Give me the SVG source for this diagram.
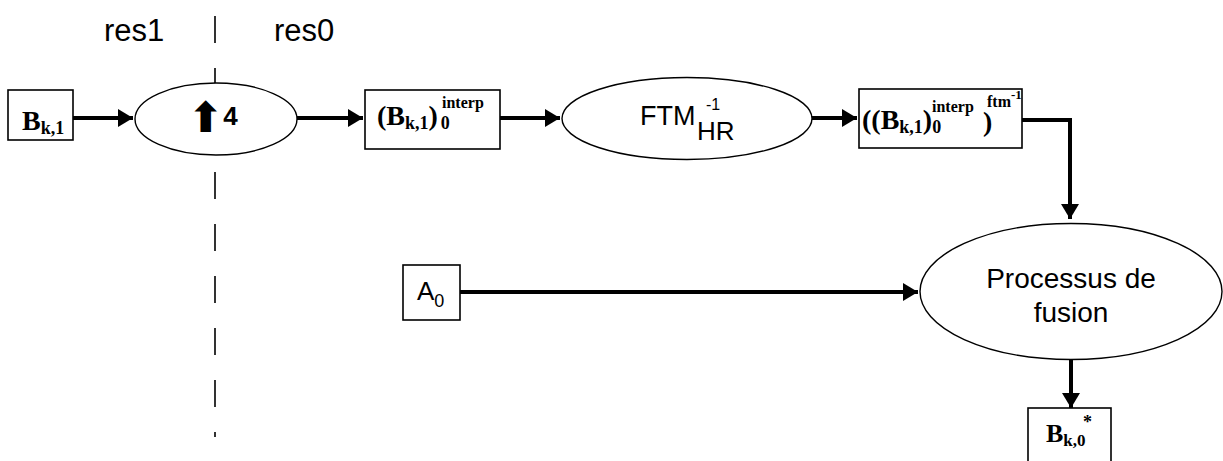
<svg xmlns="http://www.w3.org/2000/svg" width="1223" height="461" viewBox="0 0 1223 461">
<style>
.box{fill:#fff;stroke:#000;stroke-width:1.6}
.ell{fill:#fff;stroke:#000;stroke-width:1.4}
.con{fill:none;stroke:#000;stroke-width:4}
.sans{font-family:"Liberation Sans","DejaVu Sans",sans-serif;fill:#000}
.ser{font-family:"Liberation Serif","DejaVu Serif",serif;font-weight:bold;fill:#000}
</style>
<defs>
<marker id="ah" markerUnits="userSpaceOnUse" markerWidth="16" markerHeight="18" refX="15" refY="9" orient="auto">
<path d="M0,0 L15,9 L0,18 z" fill="#000"/>
</marker>
</defs>
<rect width="1223" height="461" fill="#fff"/>
<g id="labels">
<text class="sans" x="104" y="41" font-size="31">res1</text>
<text class="sans" x="274" y="41" font-size="31">res0</text>
<line x1="215" y1="16" x2="215" y2="437" stroke="#000" stroke-width="1.6" stroke-dasharray="27 25"/>
</g>
<g id="connectors">
<line class="con" x1="73" y1="118" x2="133" y2="118" marker-end="url(#ah)"/>
<line class="con" x1="297" y1="118" x2="363" y2="118" marker-end="url(#ah)"/>
<line class="con" x1="500" y1="118" x2="560" y2="118" marker-end="url(#ah)"/>
<line class="con" x1="812" y1="118" x2="857" y2="118" marker-end="url(#ah)"/>
<polyline class="con" points="1022,120 1070,120 1070,219" marker-end="url(#ah)"/>
<line class="con" x1="460" y1="292" x2="918" y2="292" marker-end="url(#ah)"/>
<line class="con" x1="1071" y1="360" x2="1071" y2="408" marker-end="url(#ah)"/>
</g>
<g id="n-bk1">
<rect class="box" x="8" y="90" width="65" height="50"/>
<text class="ser" x="22" y="130" font-size="28">B<tspan font-size="18" dy="4">k,1</tspan></text>
</g>
<g id="n-up4">
<ellipse class="ell" cx="216" cy="119" rx="81" ry="36"/>
<text x="188" y="132" font-size="42"><tspan font-family="DejaVu Sans,sans-serif" font-weight="bold">⬆</tspan><tspan font-family="Liberation Sans,sans-serif" font-weight="bold" font-size="26" dy="-7">4</tspan></text>
</g>
<g id="n-interp">
<rect class="box" x="365" y="90" width="135" height="59"/>
<text class="ser" x="377" y="125" font-size="28">(B<tspan font-size="18" dy="4">k,1</tspan><tspan dy="-4">)</tspan><tspan font-size="18" dx="3" dy="4">0</tspan></text>
<text class="ser" x="442" y="108" font-size="16">interp</text>
</g>
<g id="n-ftm">
<ellipse class="ell" cx="687" cy="118.5" rx="125" ry="41"/>
<text class="sans" x="640" y="125" font-size="27">FTM</text>
<text class="sans" x="697" y="140" font-size="26">HR</text>
<text class="sans" x="706" y="110" font-size="16">-1</text>
</g>
<g id="n-ftminv">
<rect class="box" x="859" y="89" width="163" height="59"/>
<text class="ser" x="862" y="129" font-size="28">((B<tspan font-size="18" dy="4">k,1</tspan><tspan dy="-4">)</tspan><tspan font-size="18" dy="4">0</tspan></text>
<text class="ser" x="932" y="112" font-size="16">interp</text>
<text class="ser" x="983" y="131" font-size="28">)</text>
<text class="ser" x="987" y="107" font-size="16">ftm</text>
<text class="ser" x="1011" y="99" font-size="13">-1</text>
</g>
<g id="n-a0">
<rect class="box" x="403" y="265" width="57" height="55"/>
<text class="sans" x="417" y="300" font-size="26">A<tspan font-size="18" dy="7">0</tspan></text>
</g>
<g id="n-fusion">
<ellipse class="ell" cx="1071" cy="291.5" rx="151" ry="68"/>
<text class="sans" x="1071" y="288" font-size="28" text-anchor="middle">Processus de</text>
<text class="sans" x="1071" y="322" font-size="28" text-anchor="middle">fusion</text>
</g>
<g id="n-bk0">
<rect class="box" x="1028" y="408" width="83" height="60"/>
<text class="ser" x="1046" y="442" font-size="26">B<tspan font-size="17" dy="4">k,0</tspan></text>
<text class="ser" x="1083" y="428" font-size="18">*</text>
</g>
</svg>
